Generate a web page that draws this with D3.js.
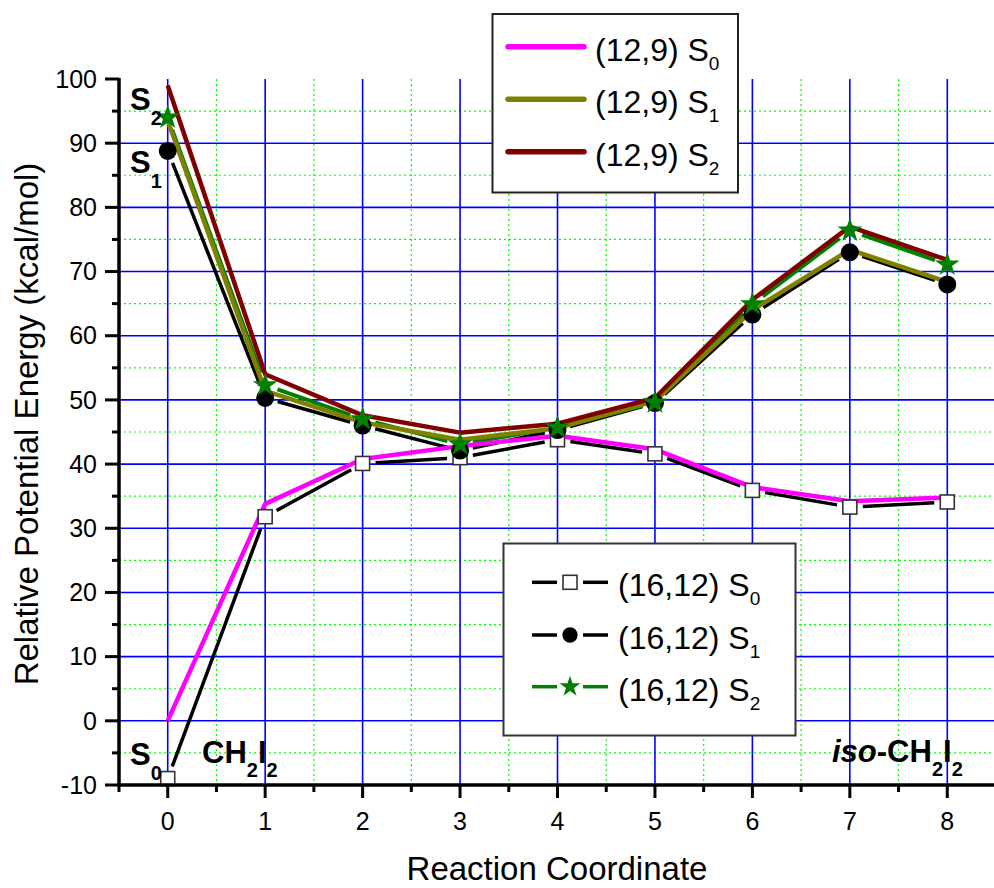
<!DOCTYPE html>
<html>
<head>
<meta charset="utf-8">
<script src="https://cdn.jsdelivr.net/npm/d3@7"></script>
<style>
  html, body { margin: 0; padding: 0; background: #fff; }
  svg { display: block; }
  text { font-family: "Liberation Sans", Arial, sans-serif; }
</style>
</head>
<body>
<svg id="chart" width="994" height="888"></svg>
<script>
// Reaction coordinate points
const coords = [0, 1, 2, 3, 4, 5, 6, 7, 8];

// (12,9) active space, lines only
const s0_12_9 = [0, 33.8, 40.8, 42.8, 44.4, 42.3, 36.4, 34.2, 34.8];
const s1_12_9 = [93.5, 51.4, 46.5, 43.8, 45.6, 49.8, 64.0, 73.4, 68.4];
const s2_12_9 = [99.0, 54.0, 47.6, 44.9, 46.3, 50.3, 65.6, 77.0, 71.8];

// (16,12) active space, lines with symbols
const s0_16_12 = [-9.0, 31.8, 40.1, 41.0, 43.8, 41.6, 35.9, 33.3, 34.1];
const s1_16_12 = [88.8, 50.3, 46.0, 42.1, 45.3, 49.5, 63.3, 73.0, 68.0];
const s2_16_12 = [94.0, 52.3, 47.0, 43.1, 45.7, 49.6, 64.9, 76.4, 71.1];

// Axis ticks
const xTicks = [0, 1, 2, 3, 4, 5, 6, 7, 8];
const yTicks = [-10, 0, 10, 20, 30, 40, 50, 60, 70, 80, 90, 100];

const svg = d3.select("#chart");
const W = 994;

const x = d3.scaleLinear().domain([-0.5, 8.5]).range([119, 996]);
const y = d3.scaleLinear().domain([-10, 100]).range([785, 79]);

// ---------- grid ----------
const grid = svg.append("g");
const minorX = d3.range(-0.5, 8.01, 0.5).filter(v => v % 1 !== 0 && v > -0.5);
const minorY = d3.range(-5, 100, 10);
grid.selectAll("line.mx").data(minorX).join("line")
  .attr("x1", d => x(d)).attr("x2", d => x(d)).attr("y1", y(100)).attr("y2", y(-10))
  .attr("stroke", "#00ff00").attr("stroke-width", 1.2).attr("stroke-dasharray", "2,3");
grid.selectAll("line.my").data(minorY).join("line")
  .attr("x1", x(-0.5)).attr("x2", W).attr("y1", d => y(d)).attr("y2", d => y(d))
  .attr("stroke", "#00ff00").attr("stroke-width", 1.2).attr("stroke-dasharray", "2,3");
grid.selectAll("line.MX").data(xTicks).join("line")
  .attr("x1", d => x(d)).attr("x2", d => x(d)).attr("y1", y(100)).attr("y2", y(-10))
  .attr("stroke", "#0000ff").attr("stroke-width", 1.6);
grid.selectAll("line.MY").data(yTicks.filter(v => v > -10 && v < 100)).join("line")
  .attr("x1", x(-0.5)).attr("x2", W).attr("y1", d => y(d)).attr("y2", d => y(d))
  .attr("stroke", "#0000ff").attr("stroke-width", 1.6);

// ---------- series ----------
const lineSeries = [
  { vals: s0_12_9, color: "#ff00ff" },
  { vals: s1_12_9, color: "#808000" },
  { vals: s2_12_9, color: "#800000" }
];
const symSeries = [
  { vals: s0_16_12, color: "#000000", sym: "square" },
  { vals: s1_16_12, color: "#000000", sym: "circle" },
  { vals: s2_16_12, color: "#008000", sym: "star" }
];

const lineGen = d3.line().x(d => x(d[0])).y(d => y(d[1]));
const plot = svg.append("g");

// Segments with a gap around each symbol
const GAP = 13;
function gappedSegments(vals) {
  const segs = [];
  for (let i = 0; i < vals.length - 1; i++) {
    const x1 = x(coords[i]), y1 = y(vals[i]);
    const x2 = x(coords[i + 1]), y2 = y(vals[i + 1]);
    const len = Math.hypot(x2 - x1, y2 - y1);
    const ux = (x2 - x1) / len, uy = (y2 - y1) / len;
    segs.push([x1 + ux * GAP, y1 + uy * GAP, x2 - ux * GAP, y2 - uy * GAP]);
  }
  return segs;
}

symSeries.forEach(s => {
  plot.append("g").selectAll("line").data(gappedSegments(s.vals)).join("line")
    .attr("x1", d => d[0]).attr("y1", d => d[1]).attr("x2", d => d[2]).attr("y2", d => d[3])
    .attr("stroke", s.color).attr("stroke-width", s.sym === "star" ? 4 : 3.5);
});

lineSeries.forEach(s => {
  plot.append("path")
    .datum(coords.map((c, i) => [c, s.vals[i]]))
    .attr("d", lineGen)
    .attr("fill", "none").attr("stroke", s.color)
    .attr("stroke-width", 4.5).attr("stroke-linejoin", "round");
});

function drawSymbol(g, type, cx, cy, scale) {
  if (type === "square") {
    const h = 7 * scale;
    g.append("rect").attr("x", cx - h).attr("y", cy - h).attr("width", 2 * h).attr("height", 2 * h)
      .attr("fill", "#fff").attr("stroke", "#333").attr("stroke-width", 1.6);
  } else if (type === "circle") {
    g.append("circle").attr("cx", cx).attr("cy", cy).attr("r", 9 * scale).attr("fill", "#000");
  } else {
    const R = 13 * scale;
    g.append("path").attr("d", d3.symbol(d3.symbolStar, R * R / 0.8908130915292852)())
      .attr("transform", `translate(${cx},${cy})`).attr("fill", "#008000");
  }
}

const marks = svg.append("g");
symSeries.forEach(s => {
  s.vals.forEach((v, i) => drawSymbol(marks, s.sym, x(coords[i]), y(v), 1));
});

// ---------- axes ----------
const axes = svg.append("g");
axes.append("line").attr("x1", x(-0.5)).attr("x2", x(-0.5)).attr("y1", y(100) - 1).attr("y2", y(-10) + 1.5)
  .attr("stroke", "#000").attr("stroke-width", 3.5);
axes.append("line").attr("x1", x(-0.5) - 1.5).attr("x2", W).attr("y1", y(-10)).attr("y2", y(-10))
  .attr("stroke", "#000").attr("stroke-width", 3.5);

// y ticks
axes.selectAll("line.yt").data(yTicks).join("line")
  .attr("x1", x(-0.5) - 14).attr("x2", x(-0.5)).attr("y1", d => y(d)).attr("y2", d => y(d))
  .attr("stroke", "#000").attr("stroke-width", 3);
axes.selectAll("line.ym").data(minorY).join("line")
  .attr("x1", x(-0.5) - 7).attr("x2", x(-0.5)).attr("y1", d => y(d)).attr("y2", d => y(d))
  .attr("stroke", "#000").attr("stroke-width", 3);
axes.selectAll("text.yl").data(yTicks).join("text")
  .attr("x", 97).attr("y", d => y(d)).attr("dy", "0.35em")
  .attr("text-anchor", "end").attr("font-size", 25).text(d => d);

// x ticks
axes.selectAll("line.xt").data(xTicks).join("line")
  .attr("x1", d => x(d)).attr("x2", d => x(d)).attr("y1", y(-10)).attr("y2", y(-10) + 13)
  .attr("stroke", "#000").attr("stroke-width", 3);
axes.selectAll("line.xm").data([-0.5].concat(minorX)).join("line")
  .attr("x1", d => x(d)).attr("x2", d => x(d)).attr("y1", y(-10)).attr("y2", y(-10) + 7)
  .attr("stroke", "#000").attr("stroke-width", 3);
axes.selectAll("text.xl").data(xTicks).join("text")
  .attr("x", d => x(d)).attr("y", 830).attr("text-anchor", "middle")
  .attr("font-size", 25).text(d => d);

// axis titles
svg.append("text").attr("x", 557).attr("y", 880).attr("text-anchor", "middle")
  .attr("font-size", 33).text("Reaction Coordinate");
svg.append("text").attr("transform", "translate(38,424) rotate(-90)").attr("text-anchor", "middle")
  .attr("font-size", 33).text("Relative Potential Energy (kcal/mol)");

// ---------- state labels ----------
function subLabel(px, py, parts, size, subSize, dySub) {
  const t = svg.append("text").attr("x", px).attr("y", py).attr("font-size", size).attr("font-weight", "bold");
  let shifted = false;
  parts.forEach(p => {
    const ts = t.append("tspan").text(p.t);
    if (p.sub) {
      ts.attr("font-size", subSize).attr("dy", shifted ? 0 : dySub);
      shifted = true;
    } else {
      if (shifted) { ts.attr("dy", -dySub); shifted = false; }
    }
    if (p.italic) ts.attr("font-style", "italic");
  });
}
subLabel(130, 110, [{ t: "S" }, { t: "2", sub: true }], 31, 20, 15);
subLabel(130, 173, [{ t: "S" }, { t: "1", sub: true }], 31, 20, 15);
subLabel(130, 765, [{ t: "S" }, { t: "0", sub: true }], 31, 20, 15);
subLabel(202, 763, [{ t: "CH" }, { t: "2", sub: true }, { t: "I" }, { t: "2", sub: true }], 31, 20, 14);
subLabel(832, 762, [{ t: "iso", italic: true }, { t: "-CH" }, { t: "2", sub: true }, { t: "I" }, { t: "2", sub: true }], 31, 20, 14);

// ---------- legends ----------
function legendText(g, px, py, main, sub) {
  const t = g.append("text").attr("x", px).attr("y", py).attr("font-size", 32);
  t.append("tspan").text(main);
  t.append("tspan").attr("font-size", 19).attr("dy", 9).text(sub);
}

const lg1 = svg.append("g");
lg1.append("rect").attr("x", 492.5).attr("y", 14).attr("width", 245.5).attr("height", 178.5)
  .attr("fill", "#fff").attr("stroke", "#222").attr("stroke-width", 2);
const lg1Names = ["(12,9) S", "(12,9) S", "(12,9) S"];
const lg1Subs = ["0", "1", "2"];
const lg1Rows = [46.7, 99.3, 151.7];
lineSeries.forEach((s, i) => {
  lg1.append("line").attr("x1", 508).attr("x2", 584).attr("y1", lg1Rows[i]).attr("y2", lg1Rows[i])
    .attr("stroke", s.color).attr("stroke-width", 5.5).attr("stroke-linecap", "round");
  legendText(lg1, 595, lg1Rows[i] + 14, lg1Names[i], lg1Subs[i]);
});

const lg2 = svg.append("g");
lg2.append("rect").attr("x", 503.5).attr("y", 543.5).attr("width", 292).attr("height", 192)
  .attr("fill", "#fff").attr("stroke", "#333").attr("stroke-width", 2);
const lg2Names = ["(16,12) S", "(16,12) S", "(16,12) S"];
const lg2Subs = ["0", "1", "2"];
const lg2Rows = [582.3, 635, 686.7];
symSeries.forEach((s, i) => {
  const ry = lg2Rows[i];
  lg2.append("line").attr("x1", 532).attr("x2", 557).attr("y1", ry).attr("y2", ry)
    .attr("stroke", s.color).attr("stroke-width", 3.5);
  lg2.append("line").attr("x1", 583).attr("x2", 608).attr("y1", ry).attr("y2", ry)
    .attr("stroke", s.color).attr("stroke-width", 3.5);
  drawSymbol(lg2, s.sym, 570, ry, s.sym === "square" ? 1 : 0.85);
  legendText(lg2, 618, ry + 14, lg2Names[i], lg2Subs[i]);
});
</script>
</body>
</html>
